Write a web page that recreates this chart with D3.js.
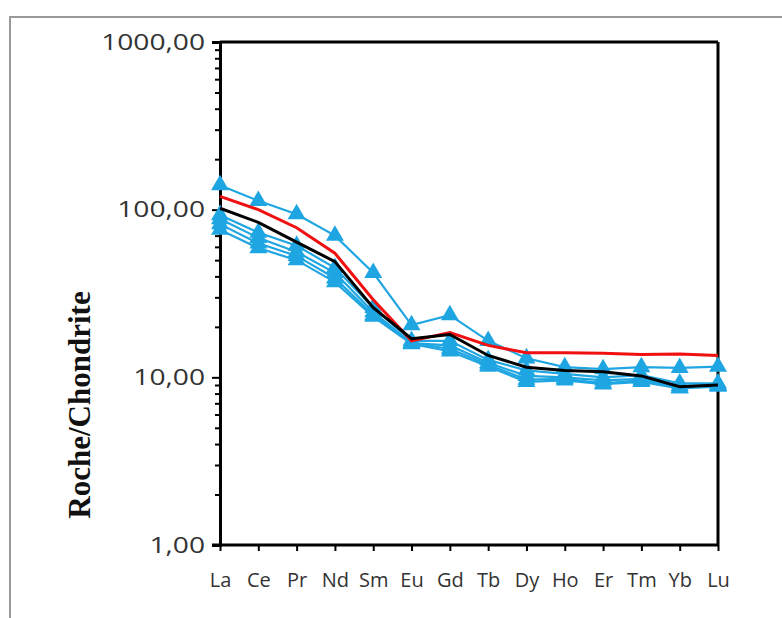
<!DOCTYPE html>
<html><head><meta charset="utf-8">
<script src="https://cdn.jsdelivr.net/npm/d3@7"></script>
<style>body{margin:0;background:#fff}svg{display:block}</style>
</head><body>
<svg id="c" width="782" height="618"></svg>
<script>
const elements = ["La","Ce","Pr","Nd","Sm","Eu","Gd","Tb","Dy","Ho","Er","Tm","Yb","Lu"];
const yTickValues = [1,10,100,1000];
const yTickLabels = ["1,00","10,00","100,00","1000,00"];
const redSeries   = [120,100,78,55,29,16.5,18.5,15.5,14.0,14.0,13.9,13.7,13.8,13.5];
const blackSeries = [102,84,64,49,26,17,18,13.5,11.5,11.0,10.8,10.2,8.8,9.0];
const blue1 = [140,113,94,70,42,20.5,23.5,16.5,13.0,11.5,11.2,11.5,11.4,11.6];
const blue2 = [93,73,61,45,26,16.5,16.5,12.7,11.0,10.5,10.0,10.3,9.2,9.2];
const blue3 = [88,68,56,42,24.5,16,15.5,12.2,10.2,10.0,9.6,9.8,8.9,9.0];
const blue4 = [82,63,53,39,23.5,16,14.8,11.9,9.7,9.8,9.2,9.6,8.7,8.9];
const blue5 = [76,59,50,37,23,15.8,14.3,11.6,9.4,9.6,9.1,9.4,8.6,8.8];
const blueSeries = [blue1,blue2,blue3,blue4,blue5];

const svg = d3.select("#c");
const L=220,R=718,T=42,B=545;
const x = d3.scalePoint().domain(elements).range([L,R]);
const y = d3.scaleLog().domain([1,1000]).range([B,T]);

// outer frame
svg.append("rect").attr("x",10).attr("y",17).attr("width",800).attr("height",640)
  .attr("fill","none").attr("stroke","#999").attr("stroke-width",2);

// frame lines top and right
svg.append("line").attr("x1",L).attr("x2",R).attr("y1",T).attr("y2",T).attr("stroke","#000").attr("stroke-width",3);
svg.append("line").attr("x1",R).attr("x2",R).attr("y1",T).attr("y2",B).attr("stroke","#000").attr("stroke-width",3);

// y axis
const minor=[];
for(let d=1; d<1000; d*=10) for(let k=2;k<=9;k++) minor.push(d*k);
svg.append("g").attr("transform",`translate(${L},0)`)
  .call(d3.axisLeft(y).tickValues(minor).tickSize(5).tickFormat(""))
  .call(g=>{g.select(".domain").remove(); g.selectAll("line").attr("stroke","#000").attr("stroke-width",2);});
const yAx = svg.append("g").attr("transform",`translate(${L},0)`)
  .call(d3.axisLeft(y).tickValues(yTickValues).tickSize(8).tickPadding(9)
    .tickFormat((d,i)=>yTickLabels[i]));
yAx.select(".domain").attr("stroke","#000").attr("stroke-width",3);
yAx.selectAll("line").attr("stroke","#000").attr("stroke-width",2);
const sx = 1.28;
yAx.selectAll("text").attr("font-family","Open Sans, sans-serif").attr("font-size",22).attr("fill","#333")
  .attr("x",-15/sx).attr("transform",`scale(${sx},1)`);

// x axis
const xAx = svg.append("g").attr("transform",`translate(0,${B})`)
  .call(d3.axisBottom(x).tickSize(6).tickPadding(22));
xAx.select(".domain").attr("d",`M${L-8},0H${R}`).attr("stroke","#000").attr("stroke-width",3);
xAx.selectAll("line").attr("stroke","#000").attr("stroke-width",2);
xAx.selectAll("text").attr("font-family","Open Sans, sans-serif").attr("font-size",20).attr("fill","#333");

// y title
svg.append("text").attr("transform","translate(90,405) rotate(-90)")
  .attr("text-anchor","middle").attr("font-family","Liberation Serif, serif")
  .attr("font-weight","bold").attr("font-size",31).attr("fill","#111").text("Roche/Chondrite");

const line = d3.line().x((d,i)=>x(elements[i])).y(d=>y(d));
const blueC = "#1fa6e2";
blueSeries.forEach(s=>{
  svg.append("path").datum(s).attr("d",line).attr("fill","none").attr("stroke",blueC).attr("stroke-width",2.2);
});
blueSeries.forEach(s=>{
  svg.append("g").selectAll("path").data(s).join("path")
    .attr("d",d3.symbol().type(d3.symbolTriangle).size(140))
    .attr("transform",(d,i)=>`translate(${x(elements[i])},${y(d)})`)
    .attr("fill",blueC);
});
svg.append("path").datum(redSeries).attr("d",line).attr("fill","none").attr("stroke","#f01010").attr("stroke-width",3);
svg.append("path").datum(blackSeries).attr("d",line).attr("fill","none").attr("stroke","#000").attr("stroke-width",3);
</script>
</body></html>
